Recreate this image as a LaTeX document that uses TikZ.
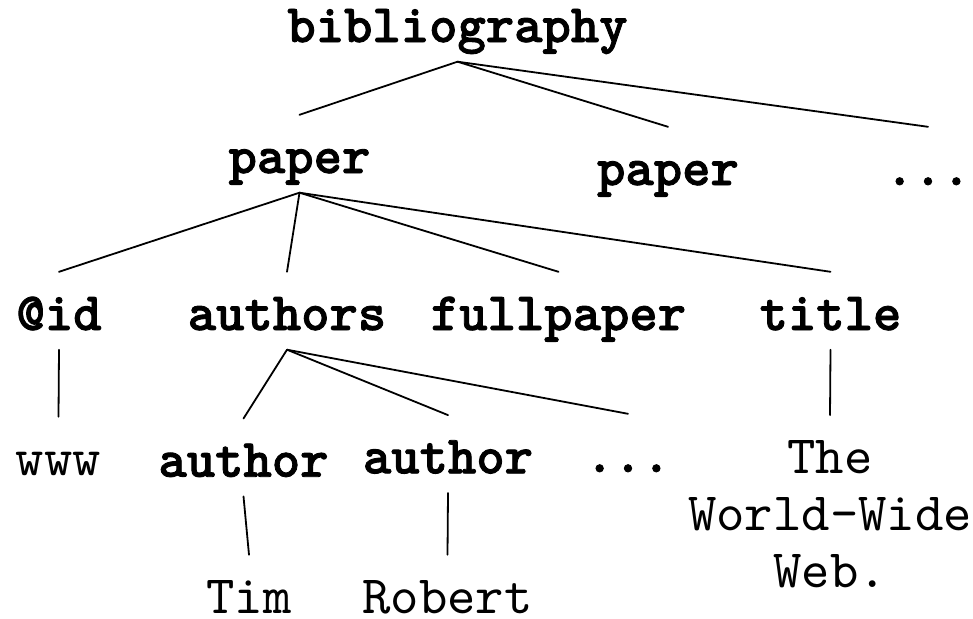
\documentclass[tikz,border=0pt]{standalone}
\usepackage{fontspec}
% heavy typewriter face for element names, plain typewriter for values
\newfontfamily\tagfont{lmmonolt10-bold}[Extension=.otf, FakeBold=1.6]
\newfontfamily\valfont{lmmono10-regular}[Extension=.otf]
\begin{document}
\begin{tikzpicture}[x=1pt,y=-1pt,
  tnode/.style={anchor=base, inner sep=0pt, text height=58pt, text depth=19.5pt},
  tag/.style={tnode, font={\fontsize{54}{57}\selectfont\tagfont}},
  val/.style={tnode, font={\fontsize{54}{57}\selectfont\valfont}},
  leaf/.style={val, text depth=0pt},
  conn/.style={line width=1.8pt, line cap=round}]
\useasboundingbox (0,0) rectangle (973,618);

% element and value nodes, placed by baseline
\node[tag] (bib)    at (457.5,42)  {bibliography};
\node[tag] (paperA) at (299.5,173) {paper};
\node[tag] (paperB) at (668,185)   {paper};
\node[tag] (moreP)  at (928,185)   {...};
\node[tag] (id)     at (59,330)    {@id};
\node[tag] (auths)  at (287,330)   {authors};
\node[tag] (full)   at (558.5,330) {fullpaper};
\node[tag] (title)  at (830.5,330) {title};
\node[val] (www)    at (58.5,475)  {www};
\node[tag] (authA)  at (243.5,476.7) {author};
\node[tag] (authB)  at (448,473.3) {author};
\node[tag] (moreA)  at (628,472)   {...};
\node[val] (ttext)  at (830,473.3)
  {\begin{tabular}[t]{@{}c@{}}The\\World-Wide\\Web.\end{tabular}};
\node[leaf] (tim)   at (249,613)   {Tim};
\node[leaf] (rob)   at (447.5,613) {Robert};

% tree edges
\draw[conn] (bib.south) -- (paperA.north);
\draw[conn] (bib.south) -- (paperB.north);
\draw[conn] (bib.south) -- (moreP.north);
\draw[conn] (paperA.south) -- (id.north);
\draw[conn] (paperA.south) -- (auths.north);
\draw[conn] (paperA.south) -- (full.north);
\draw[conn] (paperA.south) -- (title.north);
\draw[conn] (id.south) -- (www.north);
\draw[conn] (auths.south) -- (authA.north);
\draw[conn] (auths.south) -- (authB.north);
\draw[conn] (auths.south) -- (moreA.north);
\draw[conn] (title.south) -- (ttext.north);
\draw[conn] (authA.south) -- (tim.north);
\draw[conn] (authB.south) -- (rob.north);
\end{tikzpicture}
\end{document}
